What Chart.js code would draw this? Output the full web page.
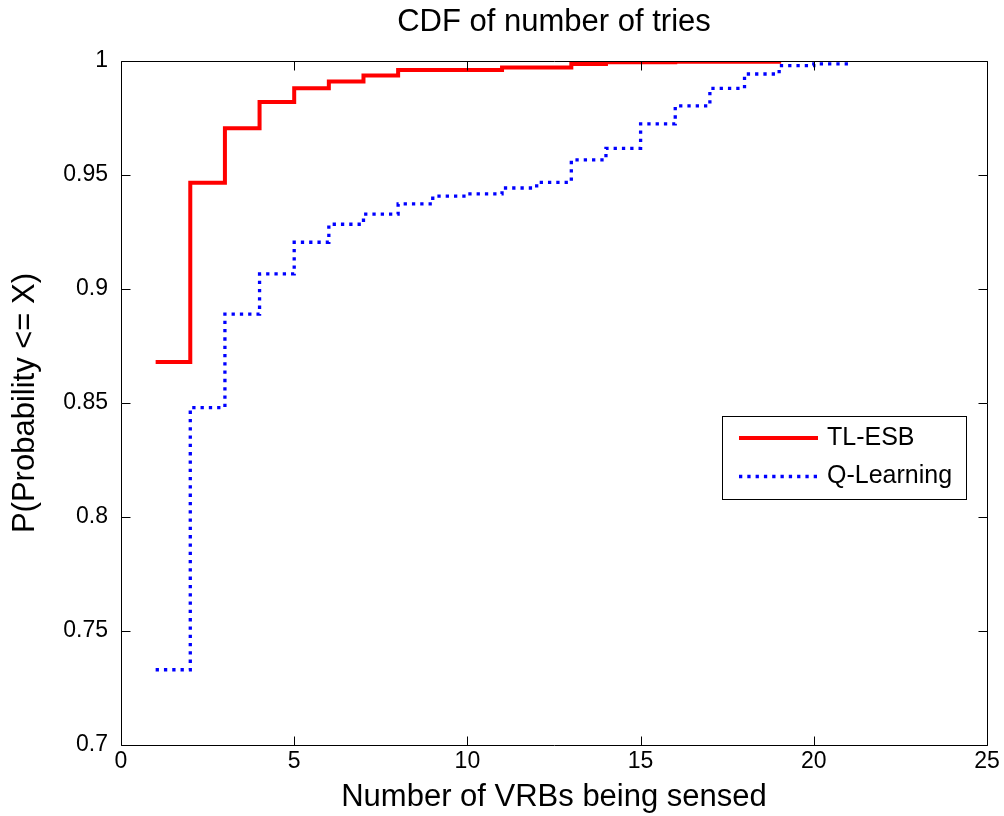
<!DOCTYPE html>
<html>
<head>
<meta charset="utf-8">
<title>CDF of number of tries</title>
<script src="https://cdn.jsdelivr.net/npm/chart.js@4.4.1/dist/chart.umd.min.js"></script>
<style>
  body { margin: 0; background: #fff; }
  canvas { display: block; }
</style>
</head>
<body>
<canvas id="cdf-chart" width="1004" height="816"></canvas>
<script>
// Number of VRBs sensed and the CDF value reached at each step
const tlEsbTries = [1, 2, 3, 4, 5, 6, 7, 8, 9, 10, 11, 12, 13, 14, 15, 16, 17, 18, 19];
const tlEsbCdf = [0.868, 0.9466, 0.9705, 0.982, 0.988, 0.991, 0.9936, 0.996, 0.996, 0.996,
  0.9972, 0.9972, 0.9987, 0.9994, 0.9994, 0.9997, 0.9997, 0.9997, 1.0];

const qLearningTries = [1, 2, 3, 4, 5, 6, 7, 8, 9, 10, 11, 12, 13, 14, 15, 16, 17, 18, 19, 20, 21];
const qLearningCdf = [0.733, 0.848, 0.889, 0.9066, 0.9205, 0.9284, 0.9328, 0.9373, 0.9407, 0.9417,
  0.9443, 0.9468, 0.9566, 0.9617, 0.9724, 0.9803, 0.988, 0.9943, 0.998, 0.9987, 1.0];

const xTicks = [0, 5, 10, 15, 20, 25];
const yTicks = [0.7, 0.75, 0.8, 0.85, 0.9, 0.95, 1];

Chart.defaults.font.family = '"Liberation Sans", Arial, Helvetica, sans-serif';
Chart.defaults.color = '#000';

const toPoints = (xs, ys) => xs.map((x, i) => ({ x: x, y: ys[i] }));

// Axes box with inward ticks on all four sides
const axesBox = {
  id: 'axesBox',
  afterDatasetsDraw(chart) {
    const { ctx, chartArea: a, scales: { x, y } } = chart;
    const tick = 9;
    const l = Math.round(a.left) + 0.5, r = Math.round(a.right) + 0.5;
    const t = Math.round(a.top) + 0.5, b = Math.round(a.bottom) + 0.5;
    ctx.save();
    ctx.strokeStyle = '#000';
    ctx.lineWidth = 1;
    ctx.beginPath();
    ctx.rect(l, t, r - l, b - t);
    xTicks.forEach(v => {
      const px = Math.round(x.getPixelForValue(v)) + 0.5;
      ctx.moveTo(px, b); ctx.lineTo(px, b - tick);
      ctx.moveTo(px, t); ctx.lineTo(px, t + tick);
    });
    yTicks.forEach(v => {
      const py = Math.round(y.getPixelForValue(v)) + 0.5;
      ctx.moveTo(l, py); ctx.lineTo(l + tick, py);
      ctx.moveTo(r, py); ctx.lineTo(r - tick, py);
    });
    ctx.stroke();
    ctx.restore();
  }
};

// Boxed legend sitting inside the plot, right side
const boxLegend = {
  id: 'boxLegend',
  afterDraw(chart) {
    const { ctx } = chart;
    const left = 722.5, top = 416.5, w = 244, h = 83;
    ctx.save();
    ctx.fillStyle = '#fff';
    ctx.fillRect(left, top, w, h);
    ctx.strokeStyle = '#000';
    ctx.lineWidth = 1;
    ctx.strokeRect(left, top, w, h);
    chart.data.datasets.forEach((ds, i) => {
      const yy = 438 + i * 38.5;
      ctx.beginPath();
      ctx.strokeStyle = ds.borderColor;
      ctx.lineWidth = ds.borderWidth;
      ctx.setLineDash(ds.borderDash || []);
      ctx.moveTo(739, yy);
      ctx.lineTo(818, yy);
      ctx.stroke();
      ctx.setLineDash([]);
      ctx.fillStyle = '#000';
      ctx.font = '25px "Liberation Sans", Arial, sans-serif';
      ctx.textBaseline = 'middle';
      ctx.fillText(ds.label, 827, yy);
    });
    ctx.restore();
  }
};

const ctx = document.getElementById('cdf-chart').getContext('2d');
const cdfChart = new Chart(ctx, {
  type: 'line',
  data: {
    datasets: [{
      label: 'TL-ESB',
      data: toPoints(tlEsbTries, tlEsbCdf),
      borderColor: '#ff0000',
      borderWidth: 4,
      stepped: true,
      pointRadius: 0,
      clip: 0,
    }, {
      label: 'Q-Learning',
      data: toPoints(qLearningTries, qLearningCdf),
      borderColor: '#0000ff',
      borderWidth: 3.3,
      borderDash: [3.3, 5],
      stepped: true,
      pointRadius: 0,
      clip: 0,
    }],
  },
  options: {
    responsive: false,
    animation: false,
    devicePixelRatio: 1,
    layout: { padding: { left: 0, top: 0, right: 17, bottom: 0 } },
    plugins: {
      legend: { display: false },
      tooltip: { enabled: false },
      title: {
        display: true,
        text: 'CDF of number of tries',
        fullSize: false,
        font: { size: 31, weight: 'normal', lineHeight: 1.2 },
        color: '#000',
        padding: { top: 3.5, bottom: 20.3 },
      },
    },
    scales: {
      x: {
        type: 'linear',
        min: 0,
        max: 25,
        afterBuildTicks: s => { s.ticks = xTicks.map(v => ({ value: v })); },
        afterFit: s => { s.height = 71; s.paddingLeft = 0; s.paddingRight = 0; },
        grid: { display: false, drawTicks: false },
        border: { display: false },
        ticks: { font: { size: 23 }, padding: 3, maxRotation: 0, callback: v => String(v) },
        title: {
          display: true,
          text: 'Number of VRBs being sensed',
          font: { size: 31, lineHeight: 1.2 },
          padding: { top: 0, bottom: 0 },
        },
      },
      y: {
        type: 'linear',
        min: 0.7,
        max: 1,
        afterBuildTicks: s => { s.ticks = yTicks.map(v => ({ value: v })); },
        afterFit: s => { s.width = 121; s.paddingTop = 0; s.paddingBottom = 0; },
        grid: { display: false, drawTicks: false },
        border: { display: false },
        ticks: { font: { size: 23 }, padding: 13, callback: v => String(+v.toFixed(2)) },
        title: {
          display: true,
          text: 'P(Probability <= X)',
          font: { size: 31, lineHeight: 1.2 },
          padding: { top: 7, bottom: 0 },
        },
      },
    },
  },
  plugins: [axesBox, boxLegend],
});
</script>
</body>
</html>
